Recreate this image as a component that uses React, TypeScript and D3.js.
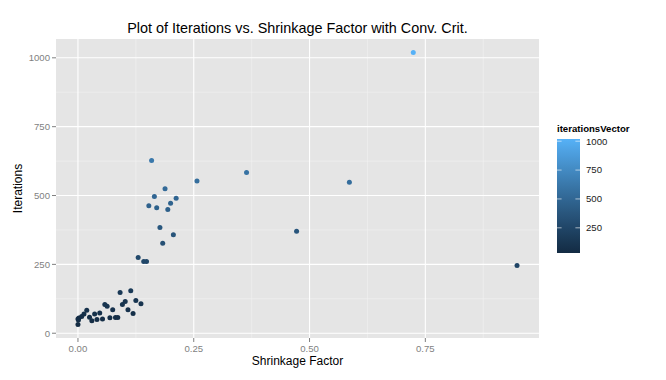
import React from "react";
import * as d3 from "d3";

const shrinkage = [
  0.724, 0.948, 0.586, 0.472, 0.364, 0.257, 0.159, 0.188, 0.165, 0.212,
  0.153, 0.170, 0.200, 0.194, 0.177, 0.206, 0.183, 0.130, 0.142, 0.148,
  0.091, 0.114, 0.102, 0.096, 0.125, 0.136, 0.108, 0.119, 0.081, 0.086,
  0.075, 0.069, 0.063, 0.058, 0.053, 0.047, 0.041, 0.036, 0.030, 0.025,
  0.019, 0.013, 0.008, 0.002, 0.000, 0.001, 0.000,
];
const iterations = [
  1019, 246, 548, 370, 584, 553, 627, 525, 496, 490,
  463, 456, 472, 449, 384, 358, 327, 275, 260, 260,
  148, 154, 115, 104, 119, 107, 85, 72, 57, 57,
  85, 56, 98, 104, 52, 73, 50, 70, 45, 58,
  83, 70, 61, 55, 52, 48, 32,
];
const xTicks = [0, 0.25, 0.5, 0.75];
const xTickLabels = ["0.00", "0.25", "0.50", "0.75"];
const xMinor = [0.125, 0.375, 0.625, 0.875];
const yTicks = [0, 250, 500, 750, 1000];
const yMinor = [125, 375, 625, 875];
const legendTicks = [250, 500, 750, 1000];

const W = 666;
const H = 380;
const P = { left: 56, right: 539, top: 39, bottom: 338 };
const FONT = "'Liberation Sans', Arial, Helvetica, sans-serif";

function expand(vals: number[]): [number, number] {
  const mn = d3.min(vals) as number;
  const mx = d3.max(vals) as number;
  const r = mx - mn;
  return [mn - 0.05 * r, mx + 0.05 * r];
}

export default function App() {
  const x = d3.scaleLinear().domain(expand(shrinkage)).range([P.left, P.right]);
  const y = d3.scaleLinear().domain(expand(iterations)).range([P.bottom, P.top]);
  const cMin = d3.min(iterations) as number;
  const cMax = d3.max(iterations) as number;
  const color = d3
    .scaleLinear<string>()
    .domain([cMin, cMax])
    .range(["#132B43", "#56B1F7"])
    .interpolate(d3.interpolateLab);

  const leg = { x: 557, w: 23, top: 139, bottom: 253 };
  const ly = d3.scaleLinear().domain([cMin, cMax]).range([leg.bottom, leg.top]);
  const stops = d3.range(0, 21).map((i) => i / 20);

  const pts = shrinkage.map((s, i) => ({ s, it: iterations[i] }));
  const cx = (P.left + P.right) / 2;
  const cy = (P.top + P.bottom) / 2;

  return (
    <div style={{ position: "fixed", left: 0, top: 0 }}>
      <svg width={W} height={H} style={{ display: "block", background: "#fff" }}>
        <defs>
          <linearGradient id="cbar" x1="0" y1="1" x2="0" y2="0">
            {stops.map((t) => (
              <stop key={t} offset={t} stopColor={color(cMin + t * (cMax - cMin))} />
            ))}
          </linearGradient>
        </defs>
        <rect x={P.left} y={P.top} width={P.right - P.left} height={P.bottom - P.top} fill="#E5E5E5" />
        {xMinor.map((v) => (
          <line key={"xm" + v} x1={x(v)} x2={x(v)} y1={P.top} y2={P.bottom} stroke="#F2F2F2" strokeWidth={0.6} />
        ))}
        {yMinor.map((v) => (
          <line key={"ym" + v} x1={P.left} x2={P.right} y1={y(v)} y2={y(v)} stroke="#F2F2F2" strokeWidth={0.6} />
        ))}
        {xTicks.map((v) => (
          <line key={"xg" + v} x1={x(v)} x2={x(v)} y1={P.top} y2={P.bottom} stroke="#fff" strokeWidth={1.1} />
        ))}
        {yTicks.map((v) => (
          <line key={"yg" + v} x1={P.left} x2={P.right} y1={y(v)} y2={y(v)} stroke="#fff" strokeWidth={1.1} />
        ))}
        {pts.map((p, i) => (
          <circle key={i} cx={x(p.s)} cy={y(p.it)} r={2.5} fill={color(p.it)} />
        ))}
        {xTicks.map((v, i) => (
          <g key={"xt" + v}>
            <line x1={x(v)} x2={x(v)} y1={P.bottom} y2={P.bottom + 4} stroke="#7F7F7F" strokeWidth={1} />
            <text x={x(v)} y={P.bottom + 14} textAnchor="middle" fontFamily={FONT} fontSize={9.6} fill="#7F7F7F">
              {xTickLabels[i]}
            </text>
          </g>
        ))}
        {yTicks.map((v) => (
          <g key={"yt" + v}>
            <line x1={P.left - 4} x2={P.left} y1={y(v)} y2={y(v)} stroke="#7F7F7F" strokeWidth={1} />
            <text x={P.left - 6} y={y(v) + 3.4} textAnchor="end" fontFamily={FONT} fontSize={9.6} fill="#7F7F7F">
              {v}
            </text>
          </g>
        ))}
        <text x={cx} y={33} textAnchor="middle" fontFamily={FONT} fontSize={14.4} fill="#000">
          Plot of Iterations vs. Shrinkage Factor with Conv. Crit.
        </text>
        <text x={cx} y={365} textAnchor="middle" fontFamily={FONT} fontSize={12} fill="#000">
          Shrinkage Factor
        </text>
        <text
          transform={`translate(22,${cy}) rotate(-90)`}
          textAnchor="middle"
          fontFamily={FONT}
          fontSize={12}
          fill="#000"
        >
          Iterations
        </text>
        <text x={leg.x} y={132} fontFamily={FONT} fontSize={9.6} fontWeight="bold" fill="#000">
          iterationsVector
        </text>
        <rect x={leg.x} y={leg.top} width={leg.w} height={leg.bottom - leg.top} fill="url(#cbar)" />
        {legendTicks.map((v) => (
          <g key={"lt" + v}>
            <line x1={leg.x} x2={leg.x + 4.6} y1={ly(v)} y2={ly(v)} stroke="#fff" strokeWidth={0.6} />
            <line x1={leg.x + leg.w - 4.6} x2={leg.x + leg.w} y1={ly(v)} y2={ly(v)} stroke="#fff" strokeWidth={0.6} />
            <text x={leg.x + leg.w + 6} y={ly(v) + 3.4} fontFamily={FONT} fontSize={9.6} fill="#1A1A1A">
              {v}
            </text>
          </g>
        ))}
      </svg>
    </div>
  );
}
